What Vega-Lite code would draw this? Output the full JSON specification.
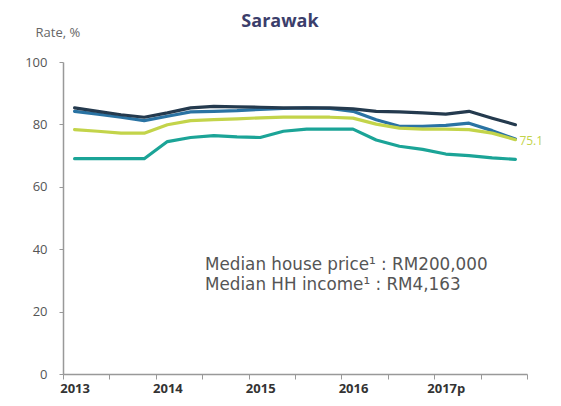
{
  "$schema": "https://vega.github.io/schema/vega-lite/v6.json",
  "width": 464,
  "height": 312,
  "autosize": {"type": "none"},
  "padding": {"left": 63, "top": 62, "right": 34, "bottom": 32},
  "background": "white",
  "title": {"text": "Sarawak", "fontSize": 18, "fontWeight": "bold", "color": "#3b3e6b", "font": "Open Sans", "anchor": "middle", "dx": -15, "offset": -5},
  "config": {"view": {"stroke": null}, "font": "Open Sans"},
  "datasets": {
    "rates": [
      {"t": 2013.125, "series": "Series 1", "rate": 84.2}, {"t": 2013.375, "series": "Series 1", "rate": 83.3}, {"t": 2013.625, "series": "Series 1", "rate": 82.3}, {"t": 2013.875, "series": "Series 1", "rate": 81.2},
      {"t": 2014.125, "series": "Series 1", "rate": 82.6}, {"t": 2014.375, "series": "Series 1", "rate": 84.0}, {"t": 2014.625, "series": "Series 1", "rate": 84.2}, {"t": 2014.875, "series": "Series 1", "rate": 84.4},
      {"t": 2015.125, "series": "Series 1", "rate": 84.8}, {"t": 2015.375, "series": "Series 1", "rate": 85.1}, {"t": 2015.625, "series": "Series 1", "rate": 85.3}, {"t": 2015.875, "series": "Series 1", "rate": 85.1},
      {"t": 2016.125, "series": "Series 1", "rate": 84.2}, {"t": 2016.375, "series": "Series 1", "rate": 81.5}, {"t": 2016.625, "series": "Series 1", "rate": 79.4}, {"t": 2016.875, "series": "Series 1", "rate": 79.4},
      {"t": 2017.125, "series": "Series 1", "rate": 79.7}, {"t": 2017.375, "series": "Series 1", "rate": 80.4}, {"t": 2017.625, "series": "Series 1", "rate": 78.0}, {"t": 2017.875, "series": "Series 1", "rate": 75.3},

      {"t": 2013.125, "series": "Series 2", "rate": 85.3}, {"t": 2013.375, "series": "Series 2", "rate": 84.2}, {"t": 2013.625, "series": "Series 2", "rate": 83.1}, {"t": 2013.875, "series": "Series 2", "rate": 82.3},
      {"t": 2014.125, "series": "Series 2", "rate": 83.7}, {"t": 2014.375, "series": "Series 2", "rate": 85.3}, {"t": 2014.625, "series": "Series 2", "rate": 85.8}, {"t": 2014.875, "series": "Series 2", "rate": 85.6},
      {"t": 2015.125, "series": "Series 2", "rate": 85.5}, {"t": 2015.375, "series": "Series 2", "rate": 85.3}, {"t": 2015.625, "series": "Series 2", "rate": 85.3}, {"t": 2015.875, "series": "Series 2", "rate": 85.3},
      {"t": 2016.125, "series": "Series 2", "rate": 85.0}, {"t": 2016.375, "series": "Series 2", "rate": 84.2}, {"t": 2016.625, "series": "Series 2", "rate": 84.0}, {"t": 2016.875, "series": "Series 2", "rate": 83.7},
      {"t": 2017.125, "series": "Series 2", "rate": 83.3}, {"t": 2017.375, "series": "Series 2", "rate": 84.2}, {"t": 2017.625, "series": "Series 2", "rate": 82.0}, {"t": 2017.875, "series": "Series 2", "rate": 79.9},

      {"t": 2013.125, "series": "Series 3", "rate": 78.3}, {"t": 2013.375, "series": "Series 3", "rate": 77.8}, {"t": 2013.625, "series": "Series 3", "rate": 77.2}, {"t": 2013.875, "series": "Series 3", "rate": 77.2},
      {"t": 2014.125, "series": "Series 3", "rate": 79.9}, {"t": 2014.375, "series": "Series 3", "rate": 81.2}, {"t": 2014.625, "series": "Series 3", "rate": 81.5}, {"t": 2014.875, "series": "Series 3", "rate": 81.8},
      {"t": 2015.125, "series": "Series 3", "rate": 82.1}, {"t": 2015.375, "series": "Series 3", "rate": 82.3}, {"t": 2015.625, "series": "Series 3", "rate": 82.3}, {"t": 2015.875, "series": "Series 3", "rate": 82.3},
      {"t": 2016.125, "series": "Series 3", "rate": 82.0}, {"t": 2016.375, "series": "Series 3", "rate": 80.1}, {"t": 2016.625, "series": "Series 3", "rate": 78.8}, {"t": 2016.875, "series": "Series 3", "rate": 78.5},
      {"t": 2017.125, "series": "Series 3", "rate": 78.5}, {"t": 2017.375, "series": "Series 3", "rate": 78.3}, {"t": 2017.625, "series": "Series 3", "rate": 77.2}, {"t": 2017.875, "series": "Series 3", "rate": 75.1},

      {"t": 2013.125, "series": "Series 4", "rate": 69.0}, {"t": 2013.375, "series": "Series 4", "rate": 69.0}, {"t": 2013.625, "series": "Series 4", "rate": 69.0}, {"t": 2013.875, "series": "Series 4", "rate": 69.0},
      {"t": 2014.125, "series": "Series 4", "rate": 74.5}, {"t": 2014.375, "series": "Series 4", "rate": 75.8}, {"t": 2014.625, "series": "Series 4", "rate": 76.4}, {"t": 2014.875, "series": "Series 4", "rate": 76.0},
      {"t": 2015.125, "series": "Series 4", "rate": 75.8}, {"t": 2015.375, "series": "Series 4", "rate": 77.8}, {"t": 2015.625, "series": "Series 4", "rate": 78.5}, {"t": 2015.875, "series": "Series 4", "rate": 78.5},
      {"t": 2016.125, "series": "Series 4", "rate": 78.5}, {"t": 2016.375, "series": "Series 4", "rate": 75.0}, {"t": 2016.625, "series": "Series 4", "rate": 73.0}, {"t": 2016.875, "series": "Series 4", "rate": 72.0},
      {"t": 2017.125, "series": "Series 4", "rate": 70.5}, {"t": 2017.375, "series": "Series 4", "rate": 70.0}, {"t": 2017.625, "series": "Series 4", "rate": 69.3}, {"t": 2017.875, "series": "Series 4", "rate": 68.8}
    ],
    "notes": [
      {"t": 2014.53, "rate": 35.0, "label": "Median house price¹ : RM200,000"},
      {"t": 2014.53, "rate": 28.5, "label": "Median HH income¹ : RM4,163"}
    ]
  },
  "layer": [
    {
      "data": {"name": "rates"},
      "mark": {"type": "line", "strokeWidth": 3.2, "strokeCap": "round", "strokeJoin": "round"},
      "encoding": {
        "x": {
          "field": "t", "type": "quantitative",
          "scale": {"domain": [2013, 2018], "nice": false, "zero": false},
          "axis": {
            "title": null, "grid": false,
            "values": [2013, 2013.25, 2013.5, 2013.75, 2014, 2014.25, 2014.5, 2014.75, 2015, 2015.25, 2015.5, 2015.75, 2016, 2016.25, 2016.5, 2016.75, 2017, 2017.25, 2017.5, 2017.75, 2018],
            "labelExpr": "datum.value % 1 == 0 && datum.value < 2018 ? (datum.value == 2017 ? '2017p' : '' + datum.value) : ''",
            "labelOffset": 11.6, "labelAlign": "center", "labelFlush": false, "labelOverlap": false,
            "labelFontSize": 13, "labelFontWeight": "bold", "labelColor": "#333333", "labelPadding": 3,
            "tickSize": 5, "tickColor": "#999999", "domainColor": "#999999", "domainWidth": 1.5
          }
        },
        "y": {
          "field": "rate", "type": "quantitative",
          "scale": {"domain": [0, 100], "nice": false},
          "axis": {
            "values": [0, 20, 40, 60, 80, 100], "grid": false,
            "title": "Rate, %", "titleAngle": 0, "titleX": -28, "titleY": -30, "titleAlign": "left", "titleBaseline": "middle",
            "titleFontSize": 13, "titleFontWeight": "normal", "titleColor": "#666666",
            "labelFontSize": 13, "labelColor": "#555555", "labelPadding": 12,
            "tickSize": 4, "tickColor": "#999999", "domainColor": "#999999", "domainWidth": 1.5
          }
        },
        "color": {
          "field": "series", "type": "nominal",
          "scale": {"domain": ["Series 1", "Series 2", "Series 3", "Series 4"], "range": ["#2a73a3", "#243a4e", "#c3d44a", "#1ba497"]},
          "legend": null
        }
      }
    },
    {
      "data": {"name": "rates"},
      "transform": [{"filter": "datum.series == 'Series 3' && datum.t == 2017.875"}],
      "mark": {"type": "text", "align": "left", "baseline": "middle", "dx": 4, "dy": 1, "fontSize": 12, "color": "#c3d44a"},
      "encoding": {
        "x": {"field": "t", "type": "quantitative"},
        "y": {"field": "rate", "type": "quantitative"},
        "text": {"field": "rate", "type": "quantitative", "format": ".1f"}
      }
    },
    {
      "data": {"name": "notes"},
      "mark": {"type": "text", "align": "left", "baseline": "middle", "fontSize": 16.8, "color": "#555555", "font": "DejaVu Sans"},
      "encoding": {
        "x": {"field": "t", "type": "quantitative"},
        "y": {"field": "rate", "type": "quantitative"},
        "text": {"field": "label", "type": "nominal"}
      }
    }
  ]
}
